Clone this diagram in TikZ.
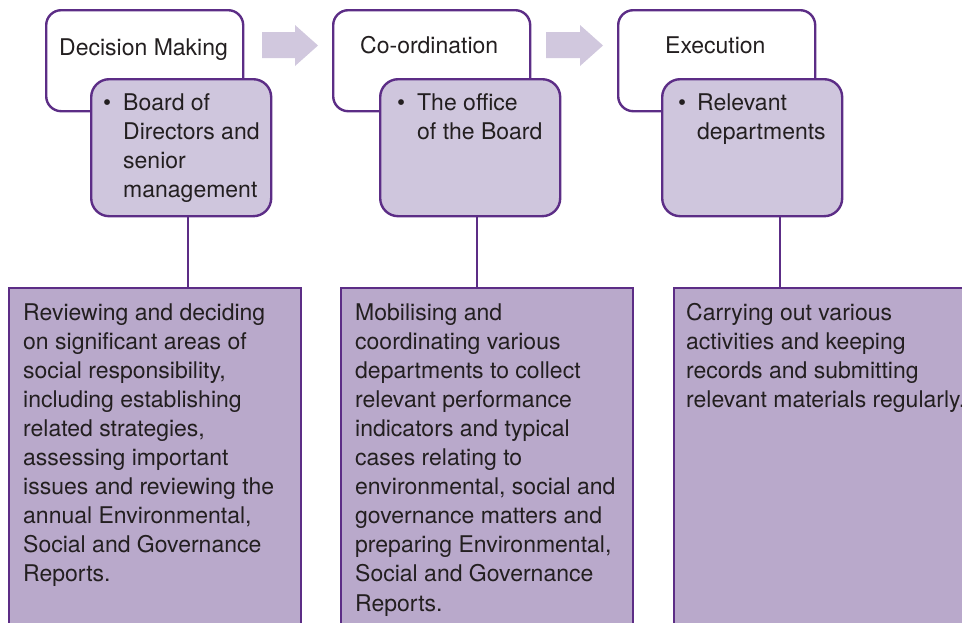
\documentclass[tikz,border=0pt]{standalone}
\usepackage{fontspec}
\setmainfont{TeX Gyre Heros}
\definecolor{border}{HTML}{5C2D86}
\definecolor{lightfill}{HTML}{CFC6DD}
\definecolor{darkfill}{HTML}{B9A9CB}
\definecolor{arrowfill}{HTML}{D1C8DE}
\definecolor{txt}{HTML}{231F20}
\begin{document}
\begin{tikzpicture}[x=1pt,y=-1pt,
  hbox/.style={draw=border, line width=2.4pt, fill=white, rounded corners=15pt, anchor=north west, inner sep=0pt, minimum width=197pt, minimum height=101pt},
  pbox/.style={draw=border, line width=2.4pt, fill=lightfill, rounded corners=18pt, anchor=north west, inner sep=0pt, minimum width=180pt, minimum height=137pt},
  bbox/.style={draw=border, line width=2.4pt, fill=darkfill, anchor=north west, inner sep=0pt, minimum width=292pt, minimum height=360pt},
  link/.style={draw=border, line width=2.4pt},
  flow/.style={fill=arrowfill},
  lbl/.style={anchor=base west, inner sep=0pt, text=txt, font=\fontsize{23}{29.1}\selectfont},
]
\clip (0,0) rectangle (962,622);
\useasboundingbox (0,0) rectangle (962,622);

% header boxes
\node[hbox] (h1) at (45,9) {};
\node[hbox] (h2) at (332,9) {};
\node[hbox] (h3) at (617,9) {};
\node[lbl] (t1) at (59,55) {Decision Making};
\node[lbl] (t2) at (360,53.5) {Co-ordination};
\node[lbl] (t3) at (665,53.5) {Execution};

% flow arrows
\fill[flow] (262,32) -- (295,32) -- (295,25) -- (318,45.5) -- (295,66) -- (295,58) -- (262,58) -- cycle;
\fill[flow] (546,32) -- (580,32) -- (580,25) -- (603,45.5) -- (580,66) -- (580,58) -- (546,58) -- cycle;

% who boxes
\node[pbox] (p1) at (90,78) {};
\node[pbox] (p2) at (379,78) {};
\node[pbox] (p3) at (661,78) {};
\node[lbl] (w1) at (103,110) {\begin{tabular}[t]{@{}p{20pt}@{}l@{}}•&Board of\\&Directors and\\&senior\\&management\end{tabular}};
\node[lbl] (w2) at (397,110) {\begin{tabular}[t]{@{}p{20pt}@{}l@{}}•&The office\\&of the Board\end{tabular}};
\node[lbl] (w3) at (678,110) {\begin{tabular}[t]{@{}p{19pt}@{}l@{}}•&Relevant\\&departments\end{tabular}};

% bottom boxes
\node[bbox] (b1) at (8,287) {};
\node[bbox] (b2) at (340,287) {};
\node[bbox] (b3) at (673,287) {};

% connectors
\coordinate (c1) at (188,0);
\coordinate (c2) at (477,0);
\coordinate (c3) at (780,0);
\draw[link] (p1.south -| c1) -- (b1.north -| c1);
\draw[link] (p2.south -| c2) -- (b2.north -| c2);
\draw[link] (p3.south -| c3) -- (b3.north -| c3);

% descriptions
\node[lbl] (d1) at (23,320) {\begin{tabular}[t]{@{}l@{}}Reviewing and deciding\\on significant areas of\\social responsibility,\\including establishing\\related strategies,\\assessing important\\issues and reviewing the\\annual Environmental,\\Social and Governance\\Reports.\end{tabular}};
\node[lbl] (d2) at (355,320) {\begin{tabular}[t]{@{}l@{}}Mobilising and\\coordinating various\\departments to collect\\relevant performance\\indicators and typical\\cases relating to\\environmental, social and\\governance matters and\\preparing Environmental,\\Social and Governance\\Reports.\end{tabular}};
\node[lbl] (d3) at (686,320) {\begin{tabular}[t]{@{}l@{}}Carrying out various\\activities and keeping\\records and submitting\\relevant materials regularly.\end{tabular}};
\end{tikzpicture}
\end{document}
